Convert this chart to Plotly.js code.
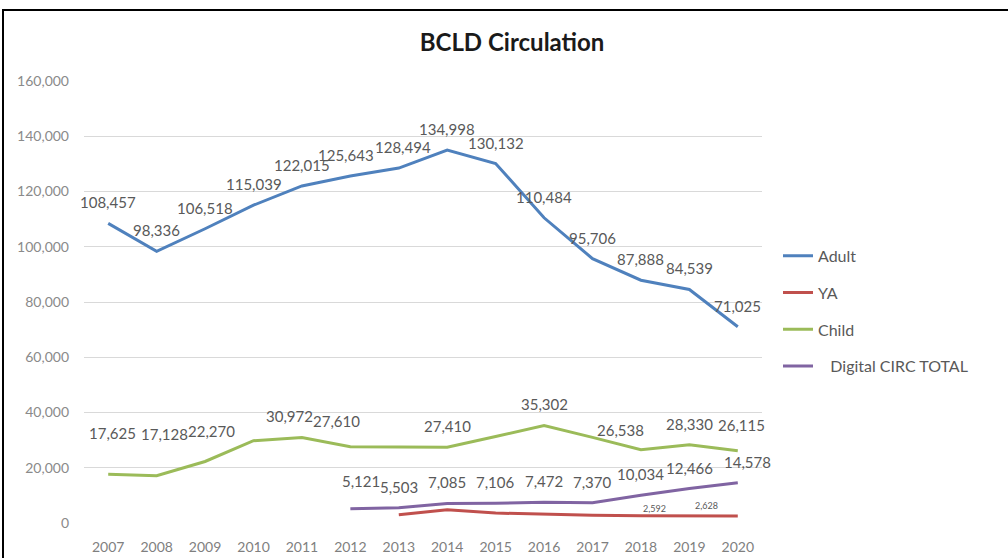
<!DOCTYPE html>
<html>
<head>
<meta charset="utf-8">
<script src="https://cdn.plot.ly/plotly-3.0.1.min.js"></script>
<style>
  html, body { margin: 0; padding: 0; background: #fff; }
  #wrap { position: relative; width: 1008px; height: 558px; overflow: hidden; }
  #chart { width: 1008px; height: 558px; }
  #frame { position: absolute; left: 2px; top: 9px; width: 1100px; height: 600px;
           border-left: 2px solid #000; border-top: 2px solid #000; pointer-events: none; }
</style>
</head>
<body>
<div id="wrap"><div id="chart"></div><div id="frame"></div></div>
<script>
// ---- data ----
const years = [2007, 2008, 2009, 2010, 2011, 2012, 2013, 2014, 2015, 2016, 2017, 2018, 2019, 2020];
const adult = [108457, 98336, 106518, 115039, 122015, 125643, 128494, 134998, 130132, 110484, 95706, 87888, 84539, 71025];
const yaYears = [2013, 2014, 2015, 2016, 2017, 2018, 2019, 2020];
const ya = [3000, 4800, 3600, 3100, 2800, 2592, 2628, 2500];
const child = [17625, 17128, 22270, 29800, 30972, 27610, 27500, 27410, 31300, 35302, 31000, 26538, 28330, 26115];
const digitalYears = [2012, 2013, 2014, 2015, 2016, 2017, 2018, 2019, 2020];
const digital = [5121, 5503, 7085, 7106, 7472, 7370, 10034, 12466, 14578];
const seriesNames = ['Adult', 'YA', 'Child', '\u00a0\u00a0\u00a0Digital CIRC TOTAL'];
const yTickVals = [0, 20000, 40000, 60000, 80000, 100000, 120000, 140000, 160000];

// years whose data label is shown
const childLabelled = [2007, 2008, 2009, 2011, 2012, 2014, 2016, 2018, 2019, 2020];
const yaLabelled = [2018, 2019];

// ---- styles ----
const colors = ['#4F81BD', '#C0504D', '#9BBB59', '#8064A2'];
const FONT = 'Lato, "Liberation Sans", Arial, sans-serif';
const labelShift = {
  Adult: {2012: [-4, -21], 2013: [4, -21]},
  Child: {2007: [4, -41], 2008: [8, -42], 2009: [6, -30], 2011: [-12, -21], 2012: [-14, -26], 2018: [-20, -20], 2020: [4, -26]},
  Digital: {2012: [11, -28], 2020: [10, -21]},
  YA: {2018: [14, -7], 2019: [17, -10]}
};

const fmt = v => v.toLocaleString('en-US');

const traces = [
  {x: years, y: adult, name: seriesNames[0], line: {color: colors[0]}},
  {x: yaYears, y: ya, name: seriesNames[1], line: {color: colors[1]}},
  {x: years, y: child, name: seriesNames[2], line: {color: colors[2]}},
  {x: digitalYears, y: digital, name: seriesNames[3], line: {color: colors[3]}}
].map((t, i) => Object.assign(t, {
  type: 'scatter', mode: 'lines', legendgroup: 'g' + i,
  line: {color: t.line.color, width: 3}, hoverinfo: 'x+y'
}));

const annotations = [];
function addLabels(xs, ys, key, shown, size) {
  xs.forEach((x, i) => {
    if (shown && shown.indexOf(x) < 0) return;
    const s = labelShift[key][x] || [0, -21];
    annotations.push({
      x: x, y: ys[i], xref: 'x', yref: 'y', text: fmt(ys[i]), showarrow: false,
      xanchor: 'center', yanchor: 'middle', xshift: s[0], yshift: -s[1],
      font: {family: FONT, size: size, color: '#595959'}
    });
  });
}
addLabels(years, adult, 'Adult', null, 15);
addLabels(years, child, 'Child', childLabelled, 15);
addLabels(digitalYears, digital, 'Digital', null, 15);
addLabels(yaYears, ya, 'YA', yaLabelled, 9);

const layout = {
  width: 1008, height: 558,
  margin: {l: 84, r: 246, t: 81, b: 35},
  paper_bgcolor: '#ffffff', plot_bgcolor: '#ffffff',
  title: {text: '<b>BCLD Circulation</b>', x: 0.508, xref: 'container', xanchor: 'center',
          y: 0.923, yref: 'container', yanchor: 'middle',
          font: {family: FONT, size: 24, color: '#1a1a1a'}},
  xaxis: {range: [2006.5, 2020.5], tickvals: years, ticktext: years.map(String),
          showgrid: false, zeroline: false, showline: false, ticks: '',
          tickfont: {family: FONT, size: 14, color: '#7f7f7f'}, ticklabelstandoff: 14, fixedrange: true},
  yaxis: {range: [0, 160000], tickvals: yTickVals, ticktext: yTickVals.map(fmt),
          showgrid: true, gridcolor: '#d9d9d9', gridwidth: 1, zeroline: false, showline: false, ticks: '',
          tickfont: {family: FONT, size: 14, color: '#8a8a8a'}, ticklabelstandoff: 14, fixedrange: true},
  showlegend: true,
  legend: {x: 1.0236, xanchor: 'left', y: 0.643, yanchor: 'top', tracegroupgap: 13,
           bgcolor: 'rgba(0,0,0,0)', font: {family: FONT, size: 16, color: '#595959'}},
  annotations: annotations
};

Plotly.newPlot('chart', traces, layout, {displayModeBar: false, staticPlot: true});
</script>
</body>
</html>
